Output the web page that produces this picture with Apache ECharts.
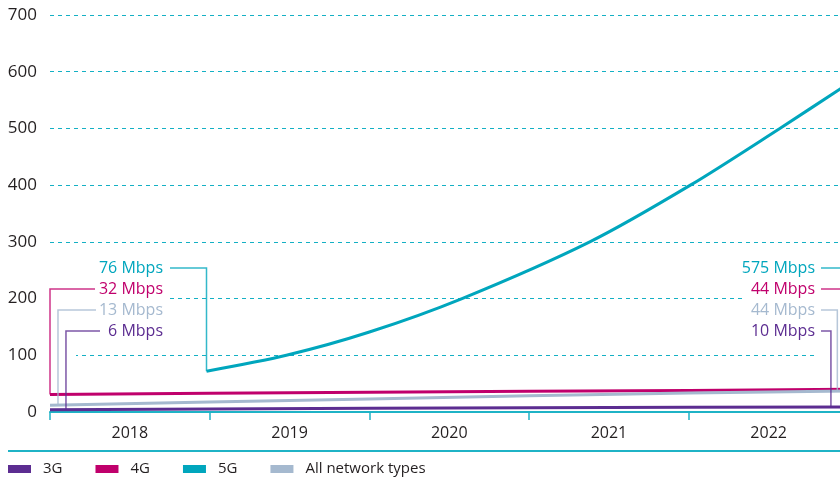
<!DOCTYPE html>
<html>
<head>
<meta charset="utf-8">
<script src="https://cdn.jsdelivr.net/npm/echarts@6/dist/echarts.min.js"></script>
<style>
  html, body { margin: 0; padding: 0; background: #fff; overflow: hidden; }
  #main { width: 850px; height: 480px; }
</style>
</head>
<body>
<div id="main"></div>
<script>
// categories / ticks
var years = ['2018', '2019', '2020', '2021', '2022'];

// 3G, 4G, all networks: sampled at start of each year (decimal years)
var xYears = [2018, 2019, 2020, 2021, 2022, 2023];
var val3G = [4, 5.3, 6.5, 7.6, 8.5, 9];
var val4G = [31, 33, 35, 36.5, 38, 40];
var valAll = [12, 17.5, 23, 28.5, 33.5, 37];

// 5G starts end of 2018
var x5G = [2018.98, 2019.48, 2020.0, 2020.58, 2021.38, 2022.01, 2022.57, 2022.95, 2023.0];
var val5G = [72, 100, 141, 200, 300, 400, 500, 570, 579];

// callout texts
var startLabels = ['76 Mbps', '32 Mbps', '13 Mbps', '6 Mbps'];
var endLabels = ['575 Mbps', '44 Mbps', '44 Mbps', '10 Mbps'];

var C3G = '#5c2d91', C4G = '#c0006c', C5G = '#00a6bd', CALL = '#a5b9cf';
var TEAL = '#1fb3c6';
var FONT = '"Open Sans", sans-serif';

function pairs(xs, ys) {
  return xs.map(function (x, i) { return [x, ys[i]]; });
}

var chart = echarts.init(document.getElementById('main'));

var option = {
  animation: false,
  textStyle: { fontFamily: FONT },
  // plot runs a little past the right edge of the 840px picture
  grid: { left: 50, right: 1.5, top: 15, bottom: 68 },
  legend: {
    left: 8, top: 461, padding: 0,
    itemWidth: 23, itemHeight: 8, itemGap: 33,
    icon: 'rect', selectedMode: false,
    textStyle: { fontSize: 15, color: '#231f20', padding: [0, 0, 0, 7], lineHeight: 16 },
    data: ['3G', '4G', '5G', 'All network types']
  },
  xAxis: [
    {
      type: 'category', data: years, boundaryGap: true,
      axisLine: { lineStyle: { color: TEAL, width: 2 } },
      axisTick: { show: true, length: 8, lineStyle: { color: TEAL, width: 1.5 } },
      axisLabel: { fontSize: 16, color: '#231f20', margin: 13 },
      splitLine: { show: false }
    },
    { type: 'value', min: 2018, max: 2023, show: false, splitLine: { show: false } }
  ],
  yAxis: {
    type: 'value', min: 0, max: 700, interval: 100,
    axisLine: { show: false }, axisTick: { show: false },
    axisLabel: { fontSize: 17, color: '#231f20', margin: 13 },
    splitLine: { lineStyle: { color: '#14b0c4', type: [4, 4], width: 1 } }
  },
  series: [
    { name: '3G', type: 'line', xAxisIndex: 1, data: pairs(xYears, val3G), showSymbol: false, silent: true,
      color: C3G, lineStyle: { width: 3, color: C3G } },
    { name: '4G', type: 'line', xAxisIndex: 1, data: pairs(xYears, val4G), showSymbol: false, silent: true,
      color: C4G, lineStyle: { width: 3, color: C4G } },
    { name: '5G', type: 'line', xAxisIndex: 1, data: pairs(x5G, val5G), showSymbol: false, silent: true,
      smooth: 0.3, color: C5G, lineStyle: { width: 3, color: C5G } },
    { name: 'All network types', type: 'line', xAxisIndex: 1, data: pairs(xYears, valAll), showSymbol: false, silent: true,
      color: CALL, lineStyle: { width: 3, color: CALL } }
  ]
};
chart.setOption(option);

// callouts with elbow leader lines, anchored to data points
function px(seriesIndex, x, y) {
  return chart.convertToPixel({ seriesIndex: seriesIndex }, [x, y]);
}
function interp(xs, ys, x) {
  for (var i = 0; i < xs.length - 1; i++) {
    if (x >= xs[i] && x <= xs[i + 1]) {
      return ys[i] + (ys[i + 1] - ys[i]) * (x - xs[i]) / (xs[i + 1] - xs[i]);
    }
  }
  return ys[ys.length - 1];
}

var rowY = [268, 289, 310, 331];
var colors = [C5G, C4G, CALL, C3G];
var elements = [];

// white boxes behind the callout text
elements.push({ type: 'rect', z: 1, shape: { x: 48, y: 258, width: 122, height: 84 }, style: { fill: '#fff' } });
elements.push({ type: 'rect', z: 1, shape: { x: 48, y: 342, width: 28, height: 18 }, style: { fill: '#fff' } });
elements.push({ type: 'rect', z: 1, shape: { x: 743, y: 258, width: 110, height: 62 }, style: { fill: '#fff' } });
elements.push({ type: 'rect', z: 1, shape: { x: 818, y: 320, width: 35, height: 40 }, style: { fill: '#fff' } });

// start-of-period anchors
var startPts = [
  px(2, x5G[0], val5G[0]),
  px(1, 2018.0, interp(xYears, val4G, 2018.0)),
  px(3, 2018.05, interp(xYears, valAll, 2018.05)),
  px(0, 2018.10, interp(xYears, val3G, 2018.10))
];
var endPts = [
  px(2, 2023.0, val5G[val5G.length - 1]),
  px(1, 2023.0, interp(xYears, val4G, 2023.0)),
  px(3, 2022.93, interp(xYears, valAll, 2022.93)),
  px(0, 2022.89, interp(xYears, val3G, 2022.89))
];
var leftLineEnd = [170, 95, 96, 100];

for (var i = 0; i < 4; i++) {
  var p = startPts[i];
  elements.push({
    type: 'text', z: 10,
    style: { text: startLabels[i], x: 163, y: rowY[i], align: 'right', verticalAlign: 'middle',
      fill: colors[i], font: '500 16px ' + FONT }
  });
  elements.push({
    type: 'polyline', z: 10,
    shape: { points: [[leftLineEnd[i], rowY[i]], [p[0], rowY[i]], [p[0], p[1]]] },
    style: { stroke: colors[i], lineWidth: 1.5, fill: null, opacity: 0.8 }
  });

  var q = endPts[i];
  elements.push({
    type: 'text', z: 10,
    style: { text: endLabels[i], x: 815, y: rowY[i], align: 'right', verticalAlign: 'middle',
      fill: colors[i], font: '500 16px ' + FONT }
  });
  elements.push({
    type: 'polyline', z: 10,
    shape: { points: [[821, rowY[i]], [q[0], rowY[i]], [q[0], q[1]]] },
    style: { stroke: colors[i], lineWidth: 1.5, fill: null, opacity: 0.8 }
  });
}

// separator line above the legend
elements.push({ type: 'line', z: 10, shape: { x1: 8, y1: 451, x2: 850, y2: 451 }, style: { stroke: TEAL, lineWidth: 2 } });

chart.setOption({ graphic: { elements: elements } });
</script>
</body>
</html>
